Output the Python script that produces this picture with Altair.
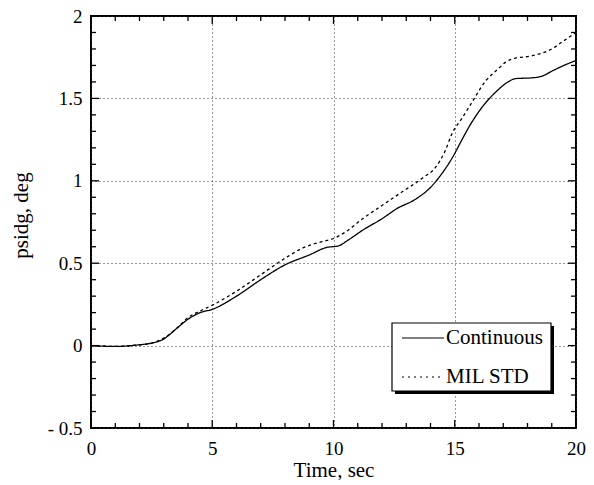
import altair as alt
import pandas as pd

# ---- data ----
t_cont = [0, 1, 2, 2.5, 3, 3.5, 4, 4.5, 5, 6, 7, 8, 9, 9.7, 10.2, 10.6, 11.2, 12, 12.6,
          13.4, 14, 14.5, 14.9, 15.3, 15.6, 16.2, 16.7, 17.2, 17.5, 18.2, 18.6, 19, 19.5, 20]
y_cont = [0, -0.005, 0.005, 0.015, 0.04, 0.10, 0.16, 0.20, 0.22, 0.30, 0.40, 0.49, 0.55,
          0.595, 0.605, 0.64, 0.70, 0.77, 0.83, 0.89, 0.96, 1.05, 1.14, 1.25, 1.33, 1.46,
          1.54, 1.60, 1.62, 1.625, 1.635, 1.665, 1.70, 1.73]

t_mil = [0, 1, 2, 2.5, 3, 3.5, 4, 4.5, 5, 6, 7, 8, 8.7, 9.5, 10, 10.5, 11.2, 12, 12.7,
         13.7, 14.2, 14.6, 14.9, 15.3, 15.6, 16.3, 16.8, 17.1, 17.5, 18.05, 18.5, 19, 19.5, 20]
y_mil = [0, -0.005, 0.005, 0.015, 0.045, 0.10, 0.17, 0.21, 0.245, 0.33, 0.43, 0.53, 0.59,
         0.63, 0.65, 0.69, 0.77, 0.85, 0.92, 1.02, 1.08, 1.18, 1.29, 1.38, 1.45, 1.61,
         1.68, 1.72, 1.745, 1.755, 1.77, 1.80, 1.85, 1.90]

series_names = ["Continuous", "MIL STD"]

x_major = [0, 5, 10, 15, 20]
x_minor = [1, 2, 3, 4, 6, 7, 8, 9, 11, 12, 13, 14, 16, 17, 18, 19]
y_major = [-0.5, 0, 0.5, 1, 1.5, 2]
y_minor = [-0.4, -0.3, -0.2, -0.1, 0.1, 0.2, 0.3, 0.4, 0.6, 0.7, 0.8, 0.9,
           1.1, 1.2, 1.3, 1.4, 1.6, 1.7, 1.8, 1.9]

x_domain = [0, 20]
y_domain = [-0.5, 2]

# ---- layout ----
W, H = 485, 412
FONT = "Liberation Serif"
FS = 19
TFS = 21

xs = alt.Scale(domain=x_domain, nice=False, zero=False)
ys = alt.Scale(domain=y_domain, nice=False, zero=False)

df = pd.concat([
    pd.DataFrame({"t": t_cont, "v": y_cont, "s": series_names[0]}),
    pd.DataFrame({"t": t_mil, "v": y_mil, "s": series_names[1]}),
])

x_axis = alt.Axis(values=x_major, ticks=False, domain=False, grid=True,
                  gridDash=[1, 3], gridColor="#333", gridWidth=1,
                  labelFont=FONT, labelFontSize=FS, labelPadding=11, labelColor="black",
                  title="Time, sec", titleFont=FONT, titleFontSize=TFS,
                  titleFontWeight="normal", titleColor="black",
                  titleBaseline="alphabetic", titleY=48, labelFlush=False)
y_axis = alt.Axis(values=y_major, ticks=False, domain=False, grid=True,
                  gridDash=[1, 3], gridColor="#333", gridWidth=1,
                  labelFont=FONT, labelFontSize=FS, labelPadding=9, labelColor="black",
                  labelExpr="replace(format(datum.value, '~g'), '\u2212', '- ')",
                  title="psidg, deg", titleFont=FONT, titleFontSize=TFS,
                  titleFontWeight="normal", titleColor="black",
                  titleBaseline="middle", titleX=-70, titleY=199, labelFlush=False)

lines = alt.Chart(df).mark_line(color="black", strokeWidth=1.3, interpolate="monotone").encode(
    x=alt.X("t:Q", scale=xs, axis=x_axis),
    y=alt.Y("v:Q", scale=ys, axis=y_axis),
    strokeDash=alt.StrokeDash("s:N", scale=alt.Scale(domain=series_names,
                                                     range=[[1, 0], [3, 3]]), legend=None),
    detail="s:N",
)

def xticks(vals, ln):
    d = pd.DataFrame({"t": vals})
    b = alt.Chart(d).mark_rule(color="black", strokeWidth=1.3).encode(
        x=alt.X("t:Q", scale=xs, axis=x_axis), y=alt.value(H), y2=alt.value(H - ln))
    tp = alt.Chart(d).mark_rule(color="black", strokeWidth=1.3).encode(
        x=alt.X("t:Q", scale=xs, axis=x_axis), y=alt.value(0), y2=alt.value(ln))
    return [b, tp]

def yticks(vals, ln):
    d = pd.DataFrame({"v": vals})
    l = alt.Chart(d).mark_rule(color="black", strokeWidth=1.3).encode(
        y=alt.Y("v:Q", scale=ys, axis=y_axis), x=alt.value(0), x2=alt.value(ln))
    r = alt.Chart(d).mark_rule(color="black", strokeWidth=1.3).encode(
        y=alt.Y("v:Q", scale=ys, axis=y_axis), x=alt.value(W), x2=alt.value(W - ln))
    return [l, r]

tick_layers = xticks(x_major, 8) + xticks(x_minor, 5) + yticks(y_major, 8) + yticks(y_minor, 5)

# ---- legend box ----
one = pd.DataFrame({"k": [0]})
LX0, LY0, LX1, LY1 = 301, 307, 460, 375
LFS = 21
shadow = alt.Chart(one).mark_rect(color="black").encode(
    x=alt.value(LX0 + 3), x2=alt.value(LX1 + 3), y=alt.value(LY0 + 3), y2=alt.value(LY1 + 3))
box = alt.Chart(one).mark_rect(fill="white", stroke="black", strokeWidth=1.2).encode(
    x=alt.value(LX0), x2=alt.value(LX1), y=alt.value(LY0), y2=alt.value(LY1))
leg_line1 = alt.Chart(one).mark_rule(color="black", strokeWidth=1).encode(
    x=alt.value(311), x2=alt.value(353), y=alt.value(322))
leg_line2 = alt.Chart(one).mark_rule(color="black", strokeWidth=1, strokeDash=[2, 4]).encode(
    x=alt.value(311), x2=alt.value(353), y=alt.value(361))
leg_t1 = alt.Chart(pd.DataFrame({"lab": [series_names[0]]})).mark_text(
    font=FONT, fontSize=LFS, align="left", baseline="middle", color="black").encode(
    x=alt.value(355), y=alt.value(322), text="lab:N")
leg_t2 = alt.Chart(pd.DataFrame({"lab": [series_names[1]]})).mark_text(
    font=FONT, fontSize=LFS, align="left", baseline="middle", color="black").encode(
    x=alt.value(355), y=alt.value(361), text="lab:N")

chart = alt.layer(lines, *tick_layers, shadow, box, leg_line1, leg_line2, leg_t1, leg_t2).properties(
    width=W, height=H,
    autosize=alt.AutoSizeParams(type="none"),
    padding={"left": 83, "top": 8, "right": 10, "bottom": 52},
    background="white",
).configure_view(stroke="black", strokeWidth=2)

chart.save("out.html", embed_options={"renderer": "svg", "actions": False})
